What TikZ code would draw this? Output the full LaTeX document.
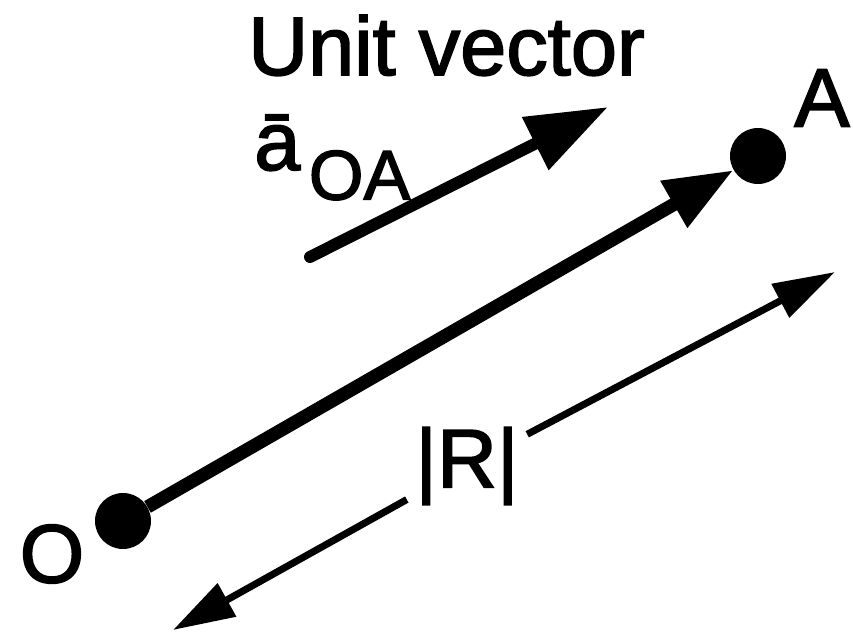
\documentclass[tikz,border=0pt]{standalone}
\usepackage{fontspec}
\setmainfont{Liberation Sans}
\newfontfamily\lblfont{Liberation Sans}[FakeBold=2]
\usetikzlibrary{arrows.meta}

\tikzset{
  dot/.style={circle, fill=black, inner sep=0pt, minimum size=1.4cm},
  lbl/.style={font=\lblfont\fontsize{59}{60}\selectfont, inner sep=0pt},
  vec/.style={line width=9.5pt, -{Triangle[length=49pt,width=36pt]}},
  unitvec/.style={line width=8.5pt, line cap=round, -{Triangle[length=58pt,width=40pt]}},
  dist/.style={line width=5pt, -{Triangle[length=44pt,width=26pt]}},
}

\begin{document}
\begin{tikzpicture}

    \useasboundingbox (0,0) rectangle (21.325,15.925);

    \coordinate (Ustart) at ( 7.75,  9.5);
    \coordinate (Uend) at (15.2, 13.25);
    \coordinate (Rlow) at ( 4.325,  0.175);
    \coordinate (Rhigh) at (20.875,  9.125);

    \node [dot] (O) at ( 3.075,  2.9) {};
    \node [dot] (A) at (18.95, 12.025) {};

    \draw [vec] (O) -- (A);
    \draw [unitvec] (Ustart) -- (Uend);

    \node [lbl, inner xsep=6pt] (R) at (11.675, 4.275) {|R|};
    \draw [dist] (R) -- (Rhigh);
    \draw [dist] (R) -- (Rlow);

    \node [lbl] (Olbl) at ( 1.3,  2.075) {O};
    \node [lbl] (Albl) at (20.55, 13.475) {A};

    \node [lbl, anchor=base west] (title) at (6.2, 14.05) {Unit vector};
    \node [lbl, anchor=base west] (avec) at (6.35, 11.675) {\=a\kern6pt\lower21pt\hbox{\fontsize{50}{50}\selectfont OA}};

\end{tikzpicture}
\end{document}
